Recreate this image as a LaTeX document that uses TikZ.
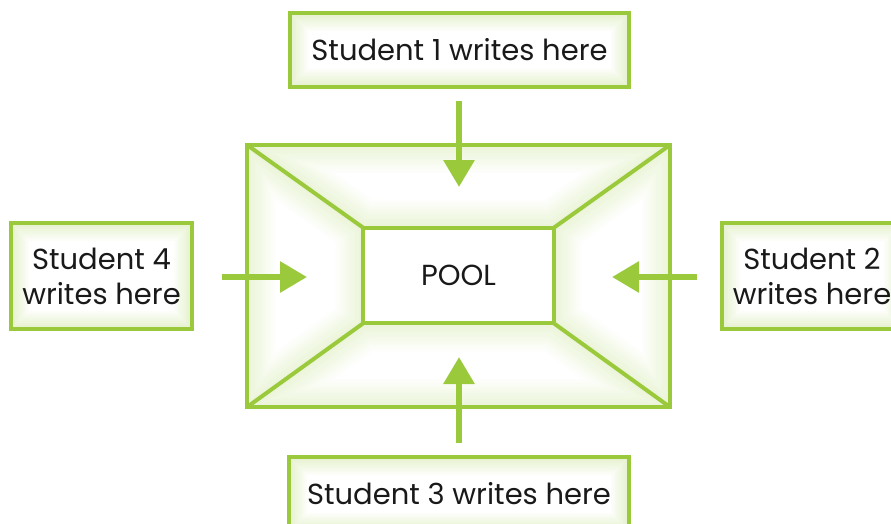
\documentclass[tikz,border=0pt]{standalone}
\usepackage{fontspec}
\setmainfont{Poppins}
\usetikzlibrary{arrows.meta}
\definecolor{lg}{RGB}{154,202,60}
\tikzset{
  glowfill/.style={path picture={
    \foreach \w in {4,8,...,36}{
      \draw[lg,line width=\w pt,opacity=0.032] (path picture bounding box.south west) rectangle (path picture bounding box.north east);}}},
  stubox/.style={draw=lg, line width=3.5pt, glowfill, inner sep=0pt, align=center,
    font=\fontsize{29}{35}\selectfont, text=black!90},
  arr/.style={draw=lg, line width=6pt, -{Triangle[width=30pt,length=27pt]}},
  frameline/.style={draw=lg, line width=4pt, line join=miter},
}
\newcommand\glowpoly[1]{%
  \begin{scope}
    \clip #1;
    \foreach \w in {4,8,...,56}{
      \draw[lg,line width=\w pt,opacity=0.017,line join=miter] #1;}
  \end{scope}}
\begin{document}
\begin{tikzpicture}[x=1pt,y=-1pt]
\useasboundingbox (0,0) rectangle (891,523);
\clip (0,0) rectangle (891,523);
% frame geometry
\path (458.5,276) node[minimum width=423pt,minimum height=262pt,inner sep=0pt] (frame) {};
\path (458.5,275.5) node[minimum width=190pt,minimum height=95pt,inner sep=0pt] (pool) {};
\glowpoly{(frame.north west) -- (frame.north east) -- (pool.north east) -- (pool.north west) -- cycle}
\glowpoly{(frame.south west) -- (frame.south east) -- (pool.south east) -- (pool.south west) -- cycle}
\glowpoly{(frame.north west) -- (pool.north west) -- (pool.south west) -- (frame.south west) -- cycle}
\glowpoly{(frame.north east) -- (pool.north east) -- (pool.south east) -- (frame.south east) -- cycle}
\draw[frameline] (frame.north west) rectangle (frame.south east);
\draw[frameline] (pool.north west) rectangle (pool.south east);
\draw[frameline] (frame.north west) -- (pool.north west);
\draw[frameline] (frame.north east) -- (pool.north east);
\draw[frameline] (frame.south west) -- (pool.south west);
\draw[frameline] (frame.south east) -- (pool.south east);
\node[font=\fontsize{29}{34}\selectfont, text=black!90] (poollabel) at (pool) {POOL};
% student boxes
\node[stubox, minimum width=339pt, minimum height=74pt] (s1) at (459.5,50) {Student 1 writes here};
\node[stubox, minimum width=180pt, minimum height=106pt] (s2) at (812,276) {Student 2\\writes here};
\node[stubox, minimum width=340pt, minimum height=74pt] (s3) at (459,494) {Student 3 writes here};
\node[stubox, minimum width=181pt, minimum height=106pt] (s4) at (101.5,276) {Student 4\\writes here};
% arrows
\coordinate (a1s) at (459,101); \coordinate (a1e) at (459,187);
\coordinate (a2s) at (697,277); \coordinate (a2e) at (612,277);
\coordinate (a3s) at (459,443); \coordinate (a3e) at (459,357);
\coordinate (a4s) at (222,277); \coordinate (a4e) at (307,277);
\draw[arr] (a1s) -- (a1e);
\draw[arr] (a2s) -- (a2e);
\draw[arr] (a3s) -- (a3e);
\draw[arr] (a4s) -- (a4e);
\end{tikzpicture}
\end{document}
